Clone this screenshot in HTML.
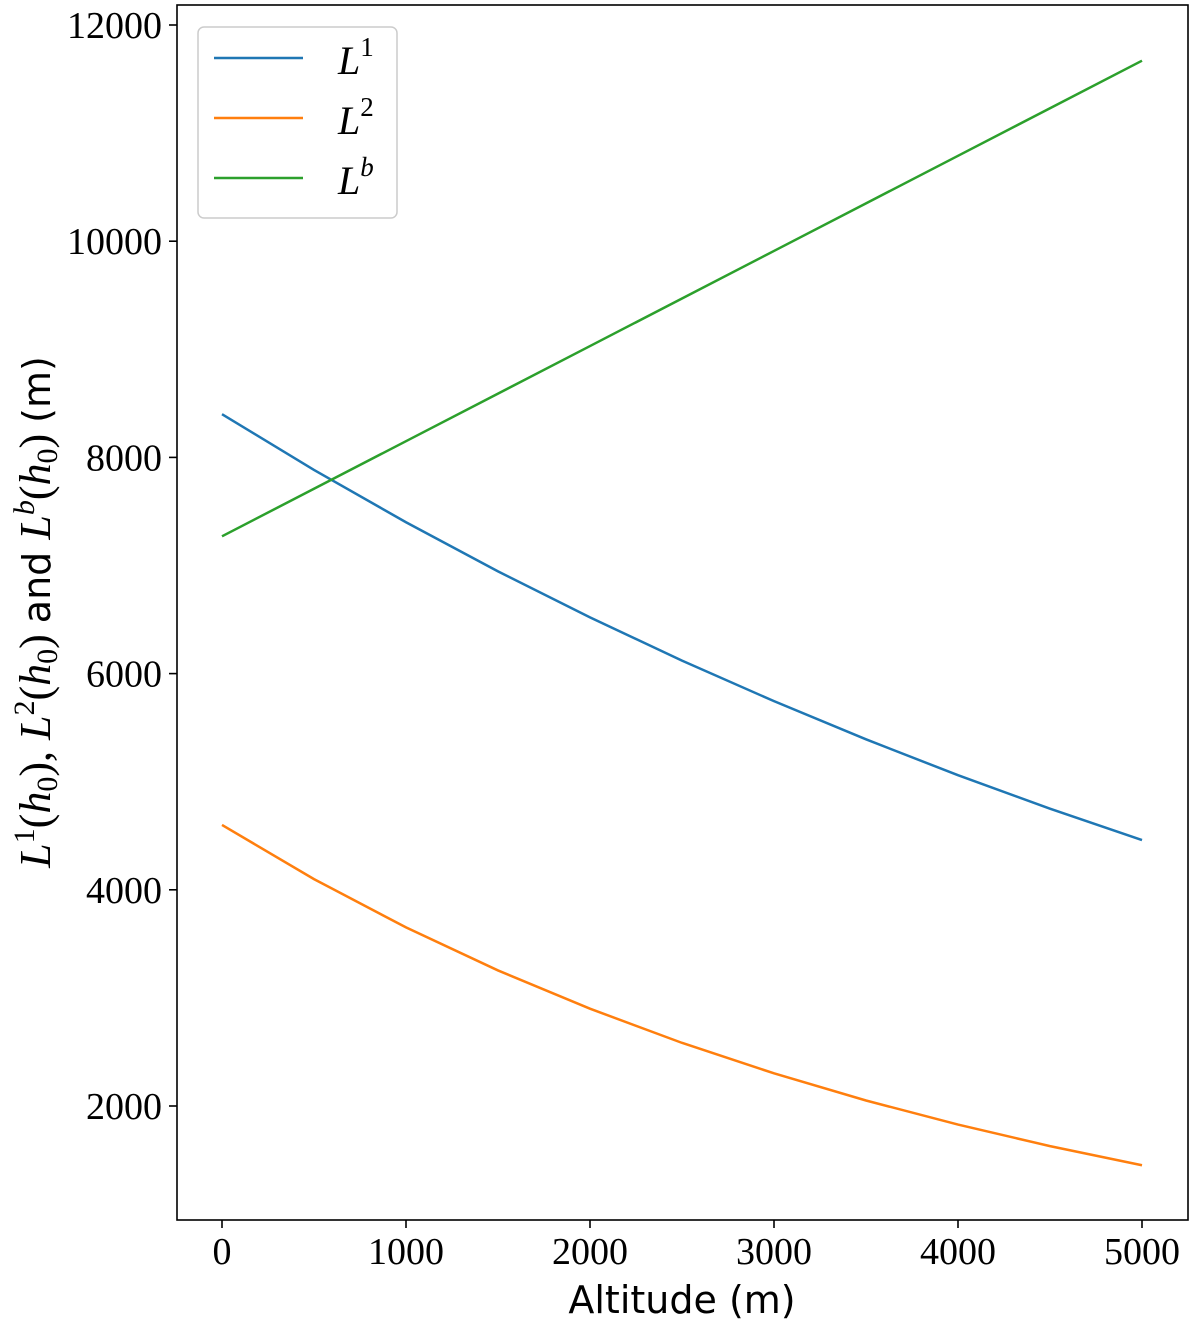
<!DOCTYPE html>
<html><head><meta charset="utf-8"><style>
body{margin:0;background:#fff;width:1200px;height:1337px;overflow:hidden}
svg text{font-family:"Liberation Serif",serif}
</style></head><body>
<svg id="chart" width="1200" height="1337" xmlns="http://www.w3.org/2000/svg">
<rect x="177" y="5" width="1011" height="1215" fill="none" stroke="#000" stroke-width="1.6"/>
<g id="ticks"></g>
<g id="series"></g>
<text x="682" y="1313" text-anchor="middle" font-size="38" style="font-family:'DejaVu Sans','Liberation Sans',sans-serif">Altitude (m)</text>
<text transform="translate(50,612) rotate(-90)" text-anchor="middle" font-size="44"><tspan font-style="italic">L</tspan><tspan font-size="30" dy="-16">1</tspan><tspan dy="16">(</tspan><tspan font-style="italic">h</tspan><tspan font-size="30" dy="7">0</tspan><tspan dy="-7">), </tspan><tspan font-style="italic">L</tspan><tspan font-size="30" dy="-16">2</tspan><tspan dy="16">(</tspan><tspan font-style="italic">h</tspan><tspan font-size="30" dy="7">0</tspan><tspan dy="-7">) </tspan><tspan style="font-family:'DejaVu Sans',sans-serif" font-size="38">and </tspan><tspan font-style="italic">L</tspan><tspan font-size="30" font-style="italic" dy="-16">b</tspan><tspan dy="16">(</tspan><tspan font-style="italic">h</tspan><tspan font-size="30" dy="7">0</tspan><tspan dy="-7">) </tspan><tspan style="font-family:'DejaVu Sans',sans-serif" font-size="38">(m)</tspan></text>
<g>
<rect x="198" y="27" width="199" height="191" rx="6" fill="#fff" stroke="#ccc" stroke-width="1.5"/>
<line x1="214" y1="58" x2="303" y2="58" stroke="#1f77b4" stroke-width="2.5"/>
<line x1="214" y1="118" x2="303" y2="118" stroke="#ff7f0e" stroke-width="2.5"/>
<line x1="214" y1="178" x2="303" y2="178" stroke="#2ca02c" stroke-width="2.5"/>
<text x="338" y="74" font-size="40"><tspan font-style="italic">L</tspan><tspan font-size="27" dy="-18">1</tspan></text>
<text x="338" y="134" font-size="40"><tspan font-style="italic">L</tspan><tspan font-size="27" dy="-18">2</tspan></text>
<text x="338" y="194" font-size="40"><tspan font-style="italic">L</tspan><tspan font-size="27" font-style="italic" dy="-18">b</tspan></text>
</g>
</svg>
<script>
const altitudes=[0,500,1000,1500,2000,2500,3000,3500,4000,4500,5000];
const l1Values=[8400,7884,7400,6946,6520,6120,5745,5392,5060,4750,4460];
const l2Values=[4600,4099,3652,3254,2900,2584,2302,2051,1828,1629,1452];
const lbValues=[7270,7710,8150,8590,9030,9470,9910,10350,10790,11230,11670];
const xTicks=[0,1000,2000,3000,4000,5000];
const yTicks=[2000,4000,6000,8000,10000,12000];
const NS="http://www.w3.org/2000/svg";
const xs=v=>222+v*0.184;
const ys=v=>25+(12000-v)*0.1081;
const tg=document.getElementById('ticks');
xTicks.forEach(t=>{
 const l=document.createElementNS(NS,'line');
 
 
 l.setAttribute('x1',xs(t));l.setAttribute('x2',xs(t));l.setAttribute('y1',1220);l.setAttribute('y2',1228);l.setAttribute('stroke','#000');l.setAttribute('stroke-width','1.6');
 tg.appendChild(l);
 const tx=document.createElementNS(NS,'text');
 
 
 tx.setAttribute('x',xs(t));tx.setAttribute('y',1264);tx.setAttribute('text-anchor','middle');tx.setAttribute('font-size','38');
 tx.textContent=t;tg.appendChild(tx);
});
yTicks.forEach(t=>{
 const l=document.createElementNS(NS,'line');
 
 
 l.setAttribute('x1',169);l.setAttribute('x2',177);l.setAttribute('y1',ys(t));l.setAttribute('y2',ys(t));l.setAttribute('stroke','#000');l.setAttribute('stroke-width','1.6');
 tg.appendChild(l);
 const tx=document.createElementNS(NS,'text');
 
 
 tx.setAttribute('x',162);tx.setAttribute('y',ys(t)+13);tx.setAttribute('text-anchor','end');tx.setAttribute('font-size','38');
 tx.textContent=t;tg.appendChild(tx);
});
const sg=document.getElementById('series');
[[l1Values,'#1f77b4','line-l1'],[l2Values,'#ff7f0e','line-l2'],[lbValues,'#2ca02c','line-lb']].forEach(([vals,c,n])=>{
 const p=document.createElementNS(NS,'polyline');
 
 
 p.setAttribute('points',vals.map((v,i)=>xs(altitudes[i])+','+ys(v)).join(' '));
 p.setAttribute('fill','none');p.setAttribute('stroke',c);p.setAttribute('stroke-width','2.5');
 sg.appendChild(p);
});
</script>
</body></html>
